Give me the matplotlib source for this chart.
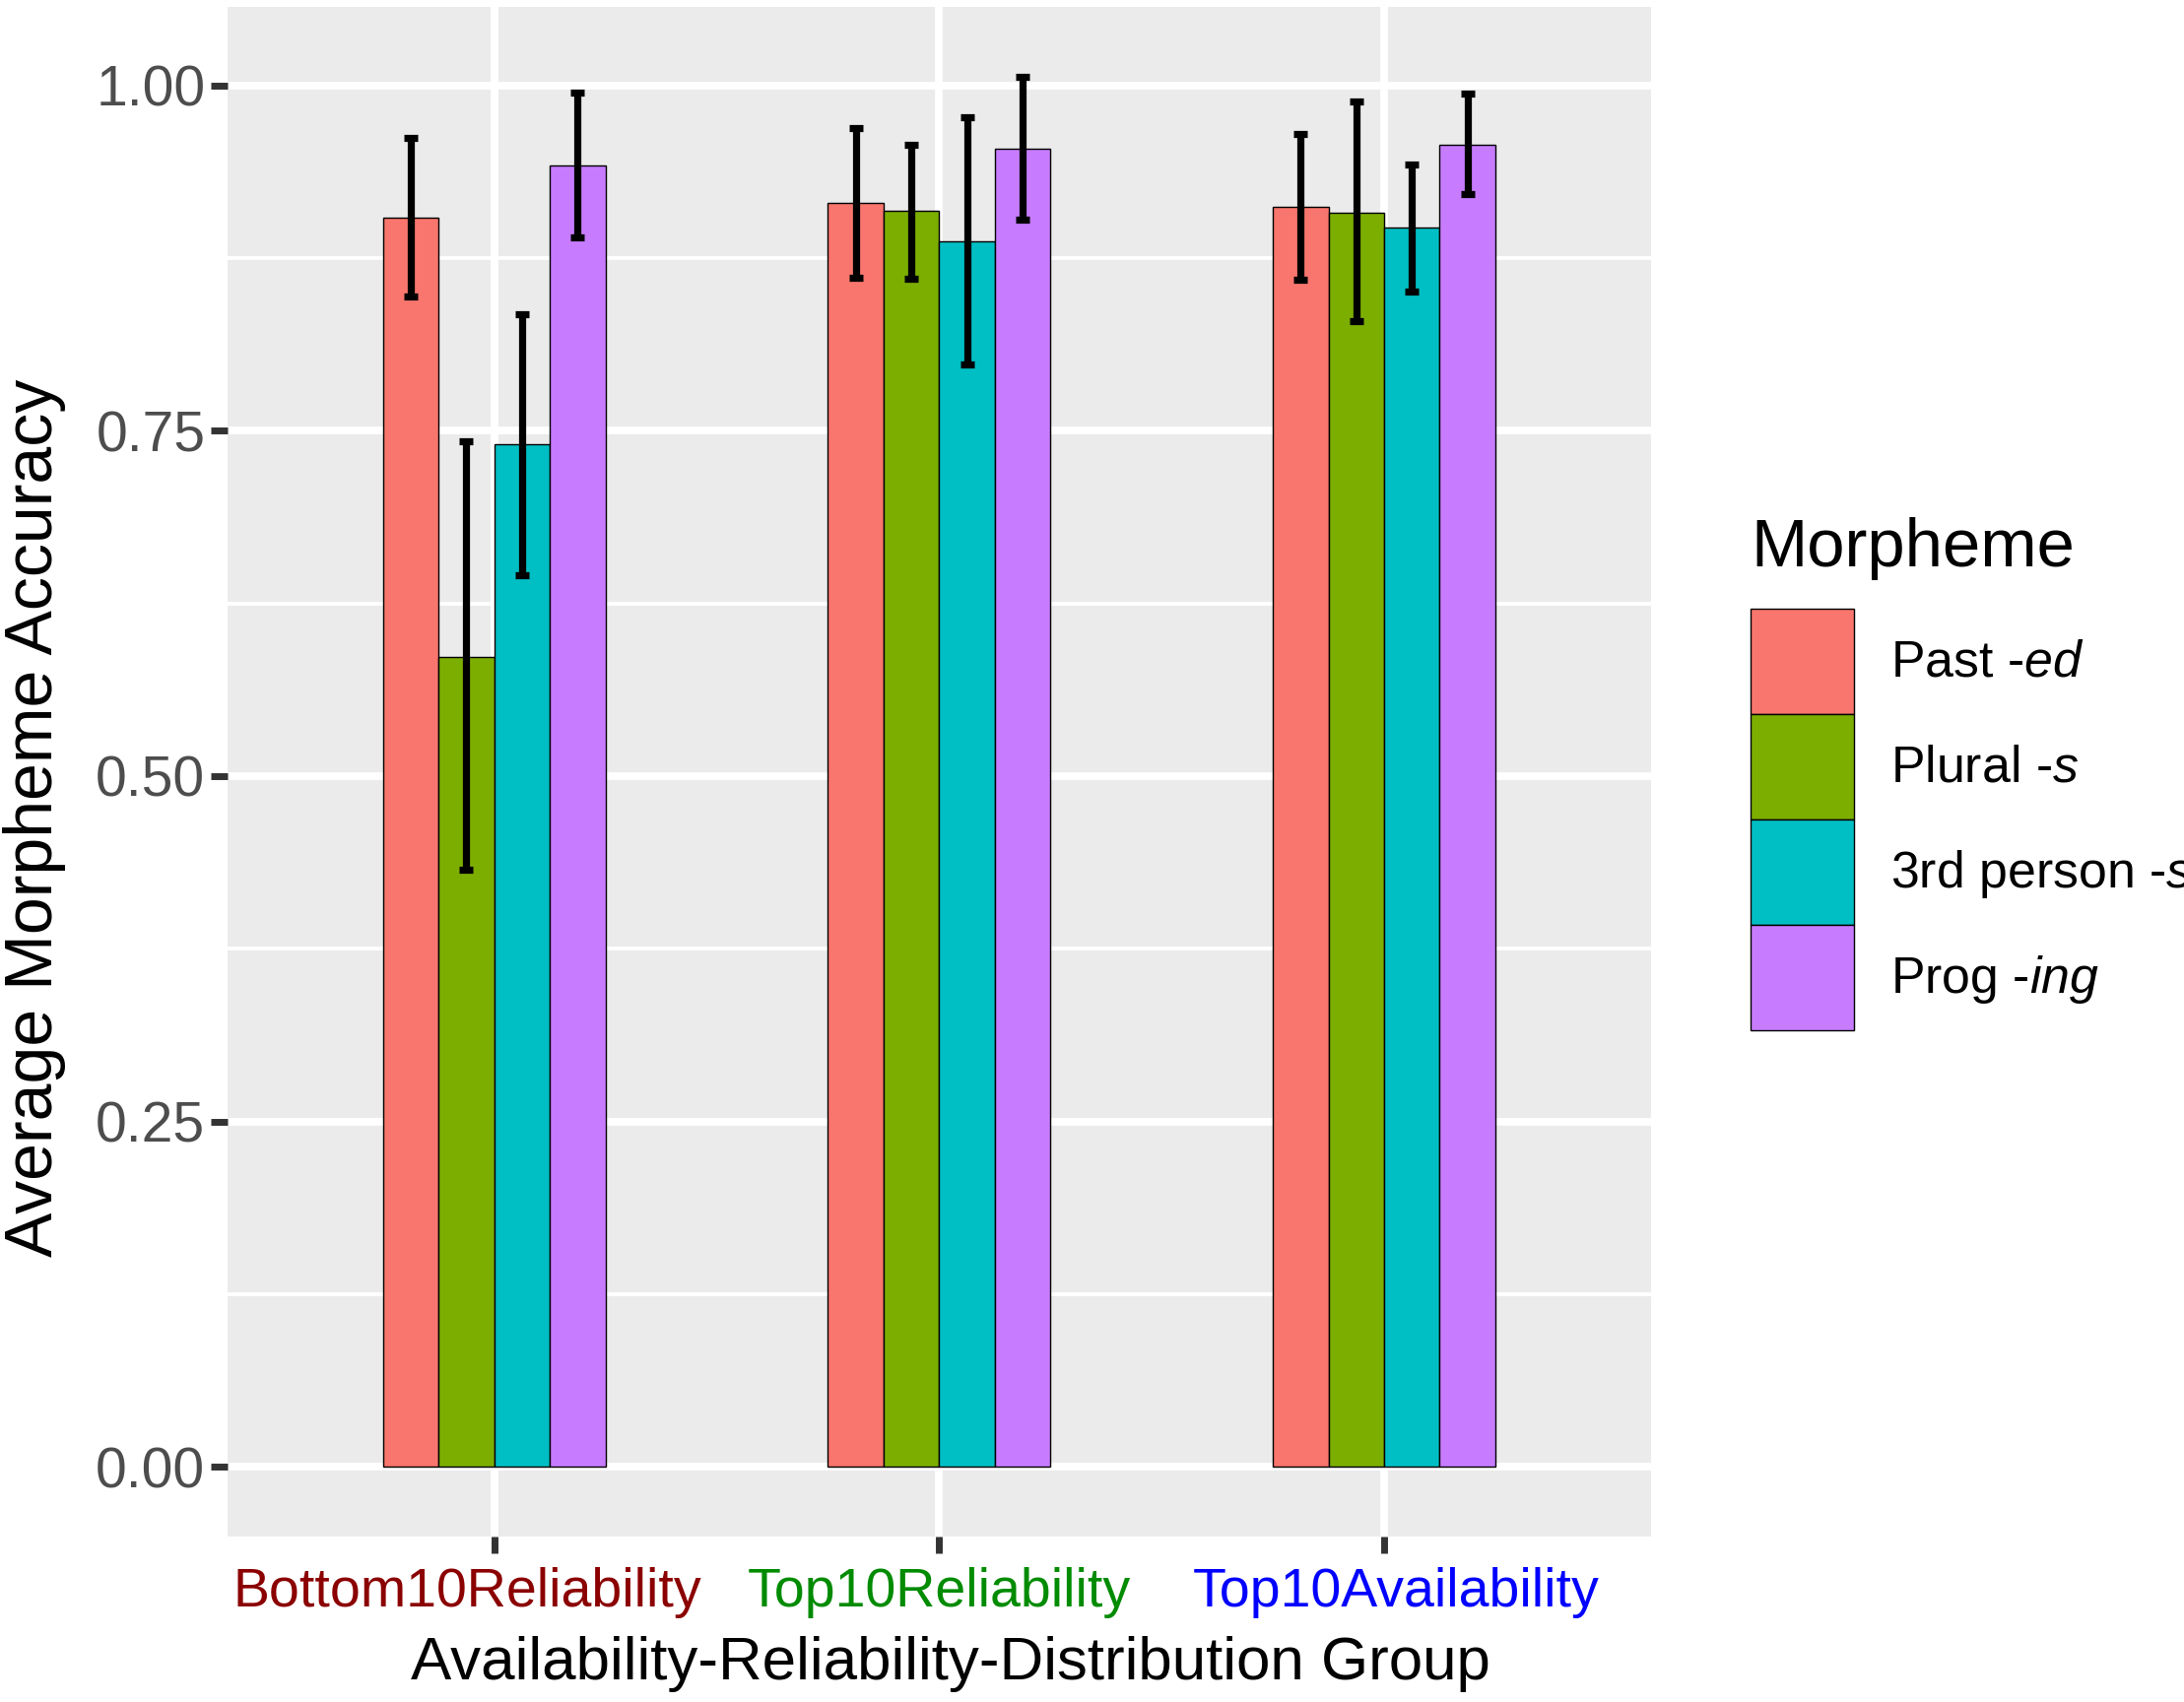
import numpy as np
import matplotlib
matplotlib.use("Agg")
import matplotlib.pyplot as plt
import matplotlib.transforms as mtransforms
from matplotlib.patches import Patch
from matplotlib.ticker import MultipleLocator

plt.rcParams['font.family'] = ['Liberation Sans', 'DejaVu Sans']
plt.rcParams['mathtext.fontset'] = 'custom'
plt.rcParams['mathtext.rm'] = 'Liberation Sans'
plt.rcParams['mathtext.it'] = 'Liberation Sans:italic'

groups = ["Bottom10Reliability", "Top10Reliability", "Top10Availability"]
group_colors = ["#8B0000", "#008B00", "#0000FF"]
morphemes = ["Past -$\\mathit{ed}$", "Plural -$\\mathit{s}$",
             "3rd person -$\\mathit{s}$", "Prog -$\\mathit{ing}$"]
fills = ["#F8766D", "#7CAE00", "#00BFC4", "#C77CFF"]

# mean accuracy per morpheme (rows) for each group (columns)
means = [
    [0.904, 0.915, 0.912],   # Past -ed
    [0.586, 0.909, 0.908],   # Plural -s
    [0.740, 0.887, 0.897],   # 3rd person -s
    [0.942, 0.954, 0.957],   # Prog -ing
]
lower = [
    [0.847, 0.861, 0.859],
    [0.432, 0.860, 0.829],
    [0.645, 0.798, 0.851],
    [0.890, 0.903, 0.921],
]
upper = [
    [0.962, 0.969, 0.965],
    [0.742, 0.957, 0.988],
    [0.834, 0.977, 0.943],
    [0.995, 1.006, 0.994],
]

fig = plt.figure(figsize=(2217 / 200, 1728 / 200), dpi=200)
ax = fig.add_axes([0.104, 0.0974, 0.652, 0.8986])
ax.set_facecolor("#EBEBEB")

x = np.arange(1, len(groups) + 1)
bw = 0.125
for i in range(len(morphemes)):
    xs = x + (i - 1.5) * bw
    ax.bar(xs, means[i], width=bw, color=fills[i], edgecolor="black",
           linewidth=0.5, zorder=3)
    m = np.array(means[i])
    err = [m - np.array(lower[i]), np.array(upper[i]) - m]
    ax.errorbar(xs, m, yerr=err, fmt="none", ecolor="black",
                elinewidth=2.6, capsize=2.4, capthick=2.6, zorder=4)

ax.set_xlim(0.4, 3.6)
ax.set_ylim(-0.0503, 1.0568)
ax.set_xticks(x)
ax.set_xticklabels([])
ax.set_yticks([0, 0.25, 0.5, 0.75, 1.0])
ax.set_yticklabels(["0.00", "0.25", "0.50", "0.75", "1.00"])
ax.yaxis.set_minor_locator(MultipleLocator(0.125))

# group labels drawn by hand: they sit slightly off-centre in the original
label_shift = [-9.7, 0.0, 4.5]
blend = mtransforms.blended_transform_factory(ax.transData, ax.transAxes)
for xi, name, c, dx in zip(x, groups, group_colors, label_shift):
    tr = blend + mtransforms.ScaledTranslation(dx / 72, 0, fig.dpi_scale_trans)
    ax.text(xi, -0.0459, name, color=c, fontsize=20, ha="center",
            va="baseline", transform=tr, clip_on=False)

ax.grid(which="major", color="white", linewidth=2.8, zorder=0)
ax.grid(which="minor", axis="y", color="white", linewidth=1.4, zorder=0)
ax.set_axisbelow(True)
for s in ax.spines.values():
    s.set_visible(False)
ax.tick_params(axis="both", which="major", length=6, width=2.5,
               color="#333333")
ax.tick_params(axis="y", labelcolor="#4D4D4D", labelsize=20.5, pad=2)
ax.tick_params(which="minor", length=0)

fig.text(0.5083 * 0.652 + 0.104, 1 - 1195 / 1222,
         "Availability-Reliability-Distribution Group", fontsize=22.3,
         ha="center", va="center")
fig.text(0.0159, 0.5196, "Average Morpheme Accuracy", rotation=90,
         ha="center", va="center", fontsize=24.5)

fig.text(0.8017, 0.667, "Morpheme", fontsize=24.8, ha="left", va="baseline")
handles = [Patch(facecolor=f, edgecolor="black", linewidth=0.5) for f in fills]
leg = ax.legend(handles, morphemes, loc="upper left",
                bbox_to_anchor=(0.8017, 0.6424), bbox_transform=fig.transFigure,
                frameon=False, fontsize=18.7,
                handlelength=2.02, handleheight=2.79, labelspacing=0,
                handletextpad=0.7, borderpad=0, borderaxespad=0)

fig.savefig("out.png", dpi=200)
